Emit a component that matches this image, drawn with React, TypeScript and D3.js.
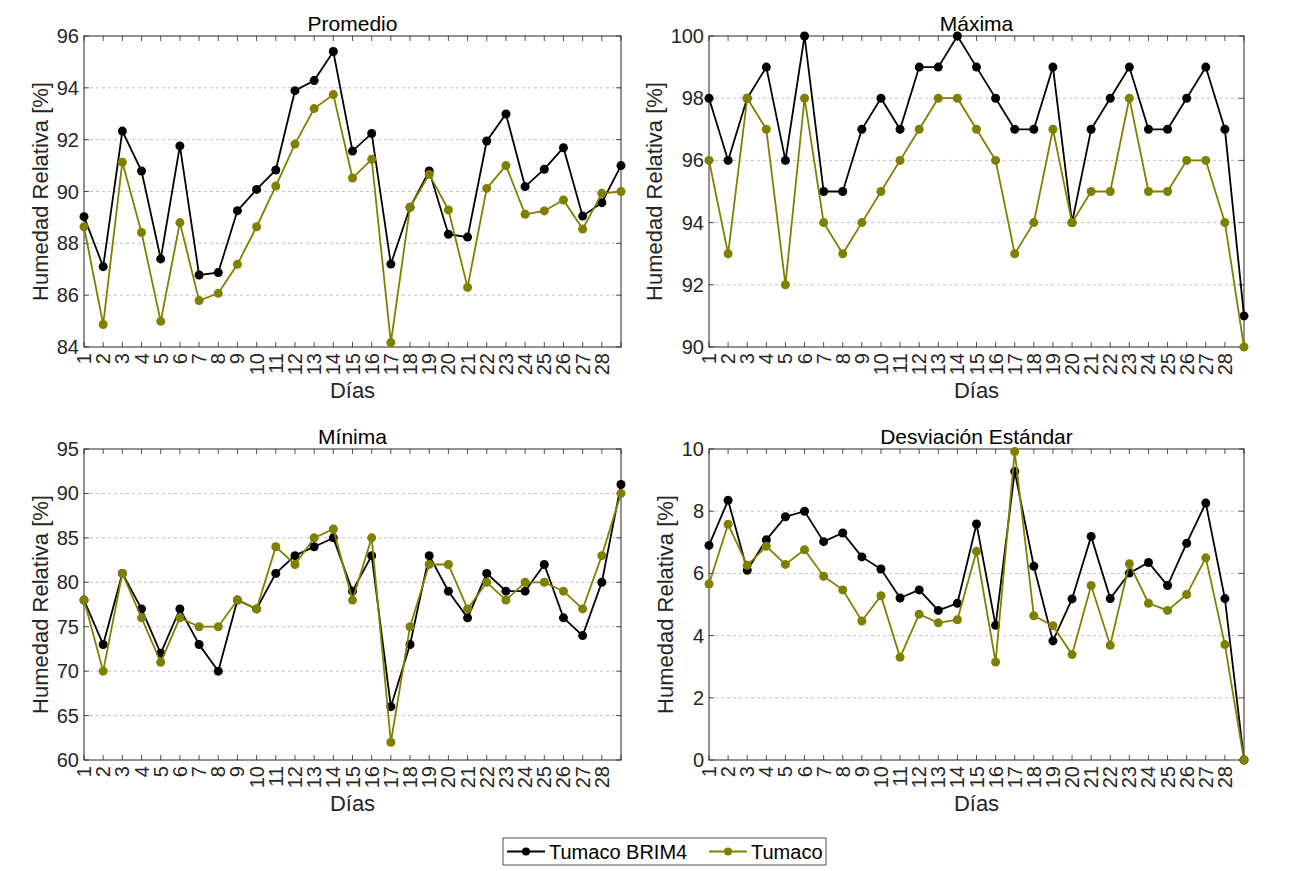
import * as d3 from 'd3';

// days 1..29 (only 1..28 get a label)
const DAYS = [1, 2, 3, 4, 5, 6, 7, 8, 9, 10, 11, 12, 13, 14, 15, 16, 17, 18, 19, 20, 21, 22, 23, 24, 25, 26, 27, 28, 29];
const DAY_LABELS = ['1', '2', '3', '4', '5', '6', '7', '8', '9', '10', '11', '12', '13', '14', '15', '16', '17', '18', '19', '20', '21', '22', '23', '24', '25', '26', '27', '28'];

const SERIES_NAMES = ['Tumaco BRIM4', 'Tumaco'];
const SERIES_COLORS = ['#000000', '#808000'];

const PROM_BRIM4 = [89.03, 87.1, 92.33, 90.79, 87.4, 91.76, 86.78, 86.87, 89.26, 90.08, 90.83, 93.89, 94.28, 95.4, 91.56, 92.24, 87.2, 89.39, 90.79, 88.35, 88.24, 91.95, 92.99, 90.19, 90.86, 91.69, 89.05, 89.57, 91.0];
const PROM_TUMACO = [88.64, 84.87, 91.13, 88.42, 84.99, 88.8, 85.79, 86.07, 87.19, 88.64, 90.21, 91.83, 93.2, 93.74, 90.52, 91.24, 84.17, 89.39, 90.66, 89.29, 86.3, 90.12, 91.0, 89.12, 89.25, 89.67, 88.55, 89.93, 90.0];

const MAX_BRIM4 = [98, 96, 98, 99, 96, 100, 95, 95, 97, 98, 97, 99, 99, 100, 99, 98, 97, 97, 99, 94, 97, 98, 99, 97, 97, 98, 99, 97, 91];
const MAX_TUMACO = [96, 93, 98, 97, 92, 98, 94, 93, 94, 95, 96, 97, 98, 98, 97, 96, 93, 94, 97, 94, 95, 95, 98, 95, 95, 96, 96, 94, 90];

const MIN_BRIM4 = [78, 73, 81, 77, 72, 77, 73, 70, 78, 77, 81, 83, 84, 85, 79, 83, 66, 73, 83, 79, 76, 81, 79, 79, 82, 76, 74, 80, 91];
const MIN_TUMACO = [78, 70, 81, 76, 71, 76, 75, 75, 78, 77, 84, 82, 85, 86, 78, 85, 62, 75, 82, 82, 77, 80, 78, 80, 80, 79, 77, 83, 90];

const STD_BRIM4 = [6.9, 8.35, 6.1, 7.08, 7.82, 8.0, 7.02, 7.3, 6.53, 6.14, 5.21, 5.47, 4.81, 5.04, 7.59, 4.33, 9.28, 6.23, 3.83, 5.18, 7.19, 5.19, 6.01, 6.35, 5.61, 6.97, 8.26, 5.19, 0];
const STD_TUMACO = [5.66, 7.58, 6.26, 6.87, 6.29, 6.76, 5.91, 5.47, 4.47, 5.28, 3.3, 4.69, 4.41, 4.51, 6.71, 3.15, 9.92, 4.64, 4.32, 3.39, 5.61, 3.69, 6.31, 5.04, 4.81, 5.32, 6.5, 3.71, 0];

const TICKS_PROM = [84, 86, 88, 90, 92, 94, 96];
const TICKS_MAX = [90, 92, 94, 96, 98, 100];
const TICKS_MIN = [60, 65, 70, 75, 80, 85, 90, 95];
const TICKS_STD = [0, 2, 4, 6, 8, 10];

const FONT = '"Liberation Sans", Arial, Helvetica, sans-serif';
const AXIS = '#262626';

interface PanelProps {
  title: string;
  left: number;
  top: number;
  width: number;
  height: number;
  ticks: number[];
  series: number[][];
}

const Panel = ({ title, left, top, width, height, ticks, series }: PanelProps) => {
  const right = left + width;
  const bottom = top + height;
  const x = d3.scaleLinear().domain([1, 29]).range([left, right]);
  const y = d3
    .scaleLinear()
    .domain([ticks[0], ticks[ticks.length - 1]])
    .range([bottom, top]);
  const line = d3
    .line<number>()
    .x((_d, i) => x(DAYS[i]))
    .y((d) => y(d));
  const labelW = (d3.max(ticks, (t) => String(t).length) || 2) * 11;
  const ylabX = left - labelW - 22;

  return (
    <g fontFamily={FONT}>
      {ticks.slice(1, -1).map((t) => (
        <line key={'g' + t} x1={left} x2={right} y1={y(t)} y2={y(t)} stroke="#b4b4b4" strokeWidth={0.8} strokeDasharray="3 3" />
      ))}
      {DAYS.map((d) => (
        <g key={'xt' + d} stroke={AXIS} strokeWidth={0.8}>
          <line x1={x(d)} x2={x(d)} y1={bottom} y2={bottom - 5} />
          <line x1={x(d)} x2={x(d)} y1={top} y2={top + 5} />
        </g>
      ))}
      {ticks.map((t) => (
        <g key={'yt' + t} stroke={AXIS} strokeWidth={0.8}>
          <line x1={left} x2={left + 5} y1={y(t)} y2={y(t)} />
          <line x1={right} x2={right - 5} y1={y(t)} y2={y(t)} />
        </g>
      ))}
      <rect x={left} y={top} width={width} height={height} fill="none" stroke={AXIS} strokeWidth={1} />
      {ticks.map((t) => (
        <text key={'yl' + t} x={left - 5} y={y(t)} dy="0.35em" textAnchor="end" fontSize={20} fill={AXIS}>
          {t}
        </text>
      ))}
      {DAY_LABELS.map((lab, i) => (
        <text
          key={'xl' + lab}
          transform={`translate(${x(DAYS[i])},${bottom + 6}) rotate(-90)`}
          dy="0.35em"
          textAnchor="end"
          fontSize={20}
          fill={AXIS}
        >
          {lab}
        </text>
      ))}
      {series.map((s, k) => (
        <g key={'s' + k}>
          <path d={line(s) || ''} fill="none" stroke={SERIES_COLORS[k]} strokeWidth={1.8} />
          {s.map((v, i) => (
            <circle key={i} cx={x(DAYS[i])} cy={y(v)} r={4.5} fill={SERIES_COLORS[k]} />
          ))}
        </g>
      ))}
      <text x={(left + right) / 2} y={top - 5.5} textAnchor="middle" fontSize={21} fill="#000">
        {title}
      </text>
      <text x={(left + right) / 2} y={bottom + 51} textAnchor="middle" fontSize={22} fill={AXIS}>
        Días
      </text>
      <text
        transform={`translate(${ylabX},${(top + bottom) / 2}) rotate(-90)`}
        dy="0.35em"
        textAnchor="middle"
        fontSize={22}
        fill={AXIS}
      >
        Humedad Relativa [%]
      </text>
    </g>
  );
};

const Legend = () => {
  const items = [
    { lx: 507, tx: 549 },
    { lx: 709, tx: 751 },
  ];
  return (
    <g fontFamily={FONT}>
      <rect x={503} y={838} width={323} height={27} fill="#fff" stroke={AXIS} strokeWidth={0.8} />
      {items.map((it, k) => (
        <g key={k}>
          <line x1={it.lx} x2={it.lx + 38} y1={851.5} y2={851.5} stroke={SERIES_COLORS[k]} strokeWidth={1.8} />
          <circle cx={it.lx + 19} cy={851.5} r={4} fill={SERIES_COLORS[k]} />
          <text x={it.tx} y={851.5} dy="0.35em" fontSize={20} fill="#000">
            {SERIES_NAMES[k]}
          </text>
        </g>
      ))}
    </g>
  );
};

export default function App() {
  return (
    <svg width={1306} height={871} style={{ position: 'fixed', left: 0, top: 0, background: '#fff' }}>
      <rect width={1306} height={871} fill="#fff" />
      <Panel title="Promedio" left={84} top={36} width={537} height={311} ticks={TICKS_PROM} series={[PROM_BRIM4, PROM_TUMACO]} />
      <Panel title="Máxima" left={709} top={36} width={535} height={311} ticks={TICKS_MAX} series={[MAX_BRIM4, MAX_TUMACO]} />
      <Panel title="Mínima" left={84} top={449} width={537} height={311} ticks={TICKS_MIN} series={[MIN_BRIM4, MIN_TUMACO]} />
      <Panel title="Desviación Estándar" left={709} top={449} width={535} height={311} ticks={TICKS_STD} series={[STD_BRIM4, STD_TUMACO]} />
      <Legend />
    </svg>
  );
}
